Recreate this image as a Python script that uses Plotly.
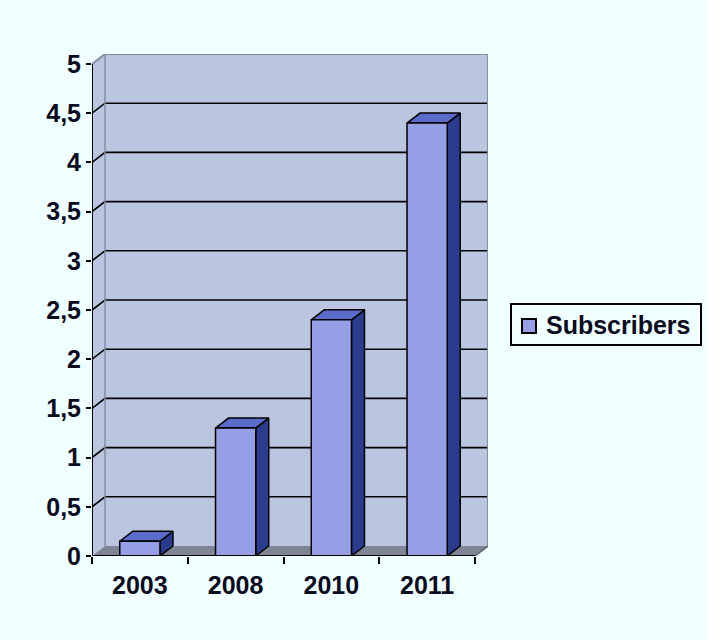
import plotly.graph_objects as go

# ---- data ----
years = ["2003", "2008", "2010", "2011"]
subscribers = [0.15, 1.3, 2.4, 4.4]
y_tick_values = [0, 0.5, 1, 1.5, 2, 2.5, 3, 3.5, 4, 4.5, 5]
y_tick_labels = ["0", "0,5", "1", "1,5", "2", "2,5", "3", "3,5", "4", "4,5", "5"]
series_name = "Subscribers"

# ---- style / geometry ----
W, H = 707, 640
ML, MR, MT, MB = 92, 219, 54, 84
DX = 0.1358   # 3D depth in category units
DY = 0.1016   # 3D depth in value units
BW = 0.42     # bar width (category units)
XMIN = -0.5
XMAX = len(years) - 0.5
YMAX = y_tick_values[-1]

BG = "#F0FFFF"
WALL = "#BAC6DF"
FLOOR = "#7E8695"
EDGE = "#868EA0"
FRONT = "#959FE6"
SIDE = "#2B3C8E"
TOP = "#5B6BCA"
TXT = "#0a0a20"
FONT = "Liberation Sans, Arial, sans-serif"
FS = 25

fig = go.Figure()


def poly(xs, ys, fill, line_color=None, lw=0):
    fig.add_trace(go.Scatter(
        x=list(xs) + [xs[0]], y=list(ys) + [ys[0]], mode="lines", fill="toself",
        fillcolor=fill, line=dict(color=line_color or fill, width=lw),
        hoverinfo="skip", showlegend=False))


def line(xs, ys, color, lw):
    fig.add_trace(go.Scatter(x=xs, y=ys, mode="lines",
                             line=dict(color=color, width=lw),
                             hoverinfo="skip", showlegend=False))


# walls and floor
poly([XMIN + DX, XMAX + DX, XMAX + DX, XMIN + DX], [DY, DY, YMAX + DY, YMAX + DY], WALL)
poly([XMIN, XMIN + DX, XMIN + DX, XMIN], [0, DY, YMAX + DY, YMAX], WALL)
poly([XMIN, XMAX, XMAX + DX, XMIN + DX], [0, 0, DY, DY], FLOOR)

# gridlines on left and back walls
gx, gy = [], []
for t in y_tick_values[1:-1]:
    gx += [XMIN, XMIN + DX, XMAX + DX, None]
    gy += [t, t + DY, t + DY, None]
line(gx, gy, "black", 1.6)

# wall edges
line([XMIN, XMIN + DX, XMAX + DX, XMAX + DX], [YMAX, YMAX + DY, YMAX + DY, DY], EDGE, 2)
line([XMIN + DX, XMIN + DX], [DY, YMAX + DY], EDGE, 1.5)
line([XMAX, XMAX + DX], [0, DY], "#5a606c", 1.5)

# bars
for i, v in enumerate(subscribers):
    x0, x1 = i - BW / 2, i + BW / 2
    poly([x1, x1 + DX, x1 + DX, x1], [0, DY, v + DY, v], SIDE, "black", 1.5)
    poly([x0, x1, x1 + DX, x0 + DX], [v, v, v + DY, v + DY], TOP, "black", 1.5)
    poly([x0, x1, x1, x0], [0, 0, v, v], FRONT, "black", 1.5)

# axis lines
line([XMIN, XMIN], [0, YMAX], "black", 2)
line([XMIN, XMAX], [0, 0], "black", 2)

fig.update_layout(
    width=W, height=H,
    margin=dict(l=ML, r=MR, t=MT, b=MB, pad=0),
    paper_bgcolor=BG, plot_bgcolor=BG,
    showlegend=False,
    font=dict(family=FONT, size=FS, color=TXT, weight="bold"),
    xaxis=dict(range=[XMIN, XMAX + DX], tickvals=list(range(len(years))), ticktext=years,
               ticks="", showgrid=False, zeroline=False, showline=False,
               ticklabelstandoff=12,
               tickfont=dict(family=FONT, size=FS, color=TXT, weight="bold"),
               minor=dict(tickvals=[i - 0.5 for i in range(len(years) + 1)], ticks="outside",
                          ticklen=7, tickwidth=2, tickcolor="black", showgrid=False)),
    yaxis=dict(range=[0, YMAX + DY], tickvals=y_tick_values, ticktext=y_tick_labels,
               ticks="outside", ticklen=5, tickwidth=2, tickcolor="black",
               showgrid=False, zeroline=False, showline=False,
               tickfont=dict(family=FONT, size=FS, color=TXT, weight="bold")),
)


# legend drawn manually
def px(x):
    return (x - ML) / (W - ML - MR)


def py(y):
    return (H - MB - y) / (H - MT - MB)


fig.add_shape(type="rect", xref="paper", yref="paper", x0=px(511), x1=px(701), y0=py(304), y1=py(345),
              line=dict(color="black", width=2), fillcolor=BG)
fig.add_shape(type="rect", xref="paper", yref="paper", x0=px(522), x1=px(536), y0=py(319), y1=py(333),
              line=dict(color="black", width=2), fillcolor=FRONT)
fig.add_annotation(xref="paper", yref="paper", x=px(544), y=py(325), xanchor="left", yanchor="middle",
                   text=series_name, showarrow=False,
                   font=dict(family=FONT, size=FS, color=TXT, weight="bold"))

fig.write_html("out.html")
